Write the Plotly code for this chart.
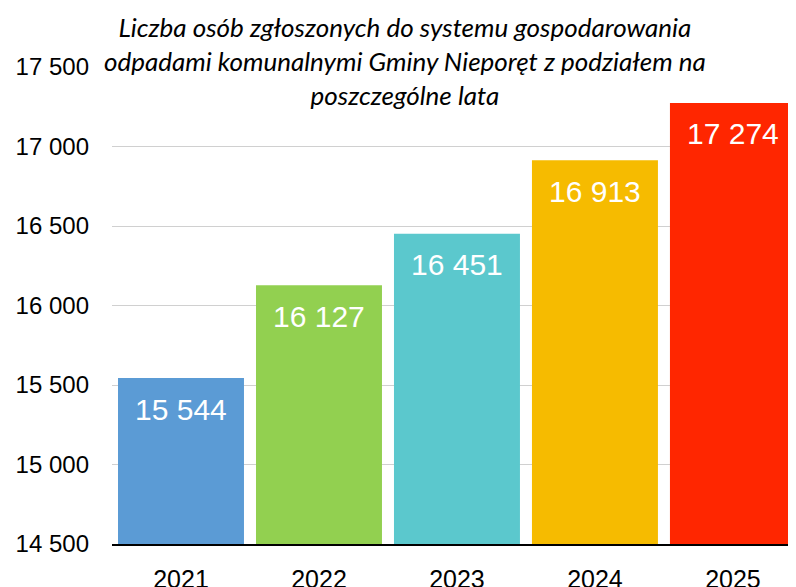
import plotly.graph_objects as go

years = ["2021", "2022", "2023", "2024", "2025"]
values = [15544, 16127, 16451, 16913, 17274]
labels = ["15 544", "16 127", "16 451", "16 913", "17 274"]
colors = ["#5b9bd5", "#92d050", "#5bc8cd", "#f6bb00", "#ff2600"]
y_ticks = [14500, 15000, 15500, 16000, 16500, 17000, 17500]
y_tick_labels = ["14 500", "15 000", "15 500", "16 000", "16 500", "17 000", "17 500"]
title_text = ("Liczba osób zgłoszonych do systemu gospodarowania<br>"
              "odpadami komunalnymi Gminy Nieporęt z podziałem na<br>"
              "poszczególne lata")

fig = go.Figure()
fig.add_trace(go.Bar(x=years, y=values, marker=dict(color=colors, line=dict(width=0)),
                     showlegend=False, hoverinfo="skip"))

for i, (v, lab) in enumerate(zip(values, labels)):
    fig.add_annotation(x=i, y=v, text=lab, showarrow=False, yanchor="middle",
                       yshift=-31, font=dict(family="Liberation Sans, Arial", size=30, color="white"))

fig.add_annotation(text=title_text, xref="paper", yref="paper", x=(405 - 112) / 684, y=1,
                   yanchor="top", yshift=58, showarrow=False, align="center",
                   font=dict(family="Lato", size=26, color="black", style="italic"))

fig.update_layout(
    width=796, height=587,
    margin=dict(l=104, r=8, t=59, b=51, autoexpand=False),
    paper_bgcolor="white", plot_bgcolor="white",
    bargap=0.087,
    xaxis=dict(type="category", range=[-0.5, 4.457], showgrid=False, showline=True,
               linecolor="black", linewidth=2, ticks="", ticklabelstandoff=12,
               automargin=False,
               tickfont=dict(family="Liberation Sans, Arial", size=25, color="black")),
    yaxis=dict(range=[14500, 17500], tickvals=y_ticks, ticktext=y_tick_labels,
               showgrid=True, gridcolor="#d0d0d0", gridwidth=1, zeroline=False,
               showline=False, ticks="", ticklabelstandoff=22, automargin=False,
               tickfont=dict(family="Liberation Sans, Arial", size=24, color="black")),
)

fig.write_html("out.html")
